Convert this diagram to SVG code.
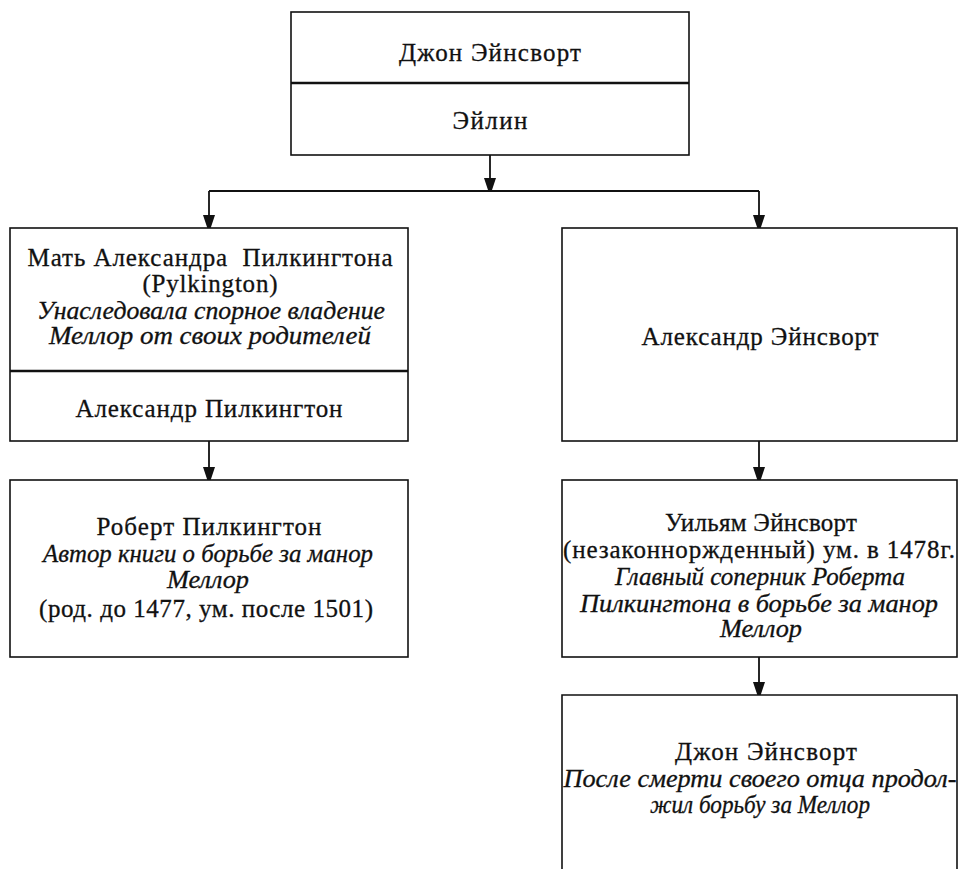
<svg xmlns="http://www.w3.org/2000/svg" width="959" height="869" viewBox="0 0 959 869">
<style>
  .box { fill: #ffffff; stroke: #111111; stroke-width: 1.6; }
  .div { stroke: #111111; stroke-width: 2.6; fill: none; }
  .con { stroke: #111111; stroke-width: 1.8; fill: none; }
  .t { font-family: "Liberation Serif", "Times New Roman", serif; font-size: 25px; fill: #111111; stroke: #111111; stroke-width: 0.3; text-anchor: middle; }
  .i { font-style: italic; font-size: 25px; }
</style>
<defs>
  <marker id="arr" markerUnits="userSpaceOnUse" markerWidth="14" markerHeight="18" refX="12" refY="6" orient="auto">
    <path d="M0,0 L18,6 L0,12 Z" fill="#111111"/>
  </marker>
</defs>
<rect width="959" height="869" fill="#ffffff"/>

<g id="connectors">
  <path class="con" d="M490,155 V190" marker-end="url(#arr)"/>
  <path class="con" d="M209,191 H759"/>
  <path class="con" d="M209,191 V227" marker-end="url(#arr)"/>
  <path class="con" d="M759,191 V227" marker-end="url(#arr)"/>
  <path class="con" d="M209,441 V479" marker-end="url(#arr)"/>
  <path class="con" d="M759,441 V479" marker-end="url(#arr)"/>
  <path class="con" d="M759,657 V694" marker-end="url(#arr)"/>
</g>

<g id="john-eileen">
  <rect class="box" x="291" y="12" width="398" height="143"/>
  <line class="div" x1="291" y1="83" x2="689" y2="83"/>
  <text class="t" x="490" y="61" textLength="182">Джон Эйнсворт</text>
  <text class="t" x="490" y="129" textLength="75">Эйлин</text>
</g>

<g id="mother-alexander-pilkington">
  <rect class="box" x="10" y="228" width="398" height="213"/>
  <line class="div" x1="10" y1="371" x2="408" y2="371"/>
  <text class="t" x="210" y="266" textLength="365" xml:space="preserve">Мать Александра  Пилкингтона</text>
  <text class="t" x="210" y="292" textLength="135">(Pylkington)</text>
  <text class="t i" x="211" y="319" textLength="348" lengthAdjust="spacingAndGlyphs">Унаследовала спорное владение</text>
  <text class="t i" x="210" y="344" textLength="322" lengthAdjust="spacingAndGlyphs">Меллор от своих родителей</text>
  <text class="t" x="209" y="417" textLength="267">Александр Пилкингтон</text>
</g>

<g id="alexander-ainsworth">
  <rect class="box" x="562" y="228" width="395" height="213"/>
  <text class="t" x="760" y="345" textLength="237">Александр Эйнсворт</text>
</g>

<g id="robert-pilkington">
  <rect class="box" x="10" y="480" width="398" height="177"/>
  <text class="t" x="209" y="535" textLength="225">Роберт Пилкингтон</text>
  <text class="t i" x="208" y="562" textLength="330" lengthAdjust="spacingAndGlyphs">Автор книги о борьбе за манор</text>
  <text class="t i" x="208" y="588" textLength="82" lengthAdjust="spacingAndGlyphs">Меллор</text>
  <text class="t" x="206" y="617" textLength="334">(род. до 1477, ум. после 1501)</text>
</g>

<g id="william-ainsworth">
  <rect class="box" x="562" y="480" width="395" height="177"/>
  <text class="t" x="761" y="531" textLength="192">Уильям Эйнсворт</text>
  <text class="t" x="759" y="558" textLength="392">(незаконноржденный) ум. в 1478г.</text>
  <text class="t i" x="760" y="585" textLength="290" lengthAdjust="spacingAndGlyphs">Главный соперник Роберта</text>
  <text class="t i" x="759" y="612" textLength="358" lengthAdjust="spacingAndGlyphs">Пилкингтона в борьбе за манор</text>
  <text class="t i" x="761" y="637" textLength="82" lengthAdjust="spacingAndGlyphs">Меллор</text>
</g>

<g id="john-ainsworth-son">
  <path class="box" d="M562,869 V695 H957 V869"/>
  <text class="t" x="766" y="760" textLength="182">Джон Эйнсворт</text>
  <text class="t i" x="760" y="787" textLength="393" lengthAdjust="spacingAndGlyphs">После смерти своего отца продол-</text>
  <text class="t i" x="760" y="813" textLength="220" lengthAdjust="spacingAndGlyphs">жил борьбу за Меллор</text>
</g>
</svg>
